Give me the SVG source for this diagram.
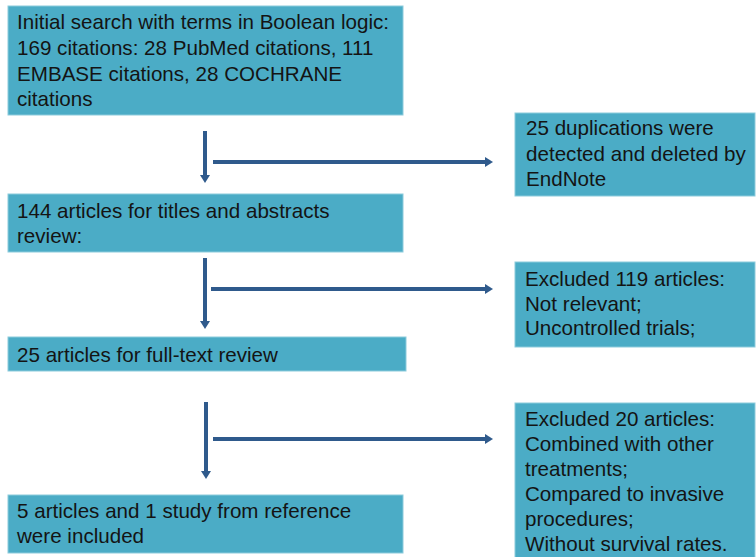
<svg xmlns="http://www.w3.org/2000/svg" width="756" height="557" viewBox="0 0 756 557">
<style>
.box{fill:#4BACC6;stroke:#8ccbdc;stroke-width:1}
.t{font-family:"Liberation Sans",Arial,sans-serif;font-size:20.6px;fill:#141414}
.c{stroke:#2F5A8C;stroke-width:4;fill:none}
</style>
<defs>
<marker id="ah" markerUnits="userSpaceOnUse" markerWidth="10" markerHeight="12" refX="1" refY="5" orient="auto" viewBox="0 0 10 10">
<path d="M0,0 L8,5 L0,10 Z" fill="#2F5A8C"/>
</marker>
</defs>
<rect width="756" height="557" fill="#ffffff"/>
<g id="n1"><rect class="box" x="8" y="6" width="395" height="109"/>
<text class="t" x="17" y="29">Initial search with terms in Boolean logic:</text>
<text class="t" x="17" y="55">169 citations: 28 PubMed citations, 111</text>
<text class="t" x="17" y="81">EMBASE citations, 28 COCHRANE</text>
<text class="t" x="17" y="106">citations</text></g>
<g id="n2"><rect class="box" x="515" y="113" width="240" height="83"/>
<text class="t" x="526" y="135">25 duplications were</text>
<text class="t" x="526" y="160.5">detected and deleted by</text>
<text class="t" x="526" y="186">EndNote</text></g>
<g id="n3"><rect class="box" x="8" y="194" width="395" height="58"/>
<text class="t" x="17" y="218">144 articles for titles and abstracts</text>
<text class="t" x="17" y="243">review:</text></g>
<g id="n4"><rect class="box" x="515" y="262" width="240" height="85"/>
<text class="t" x="525" y="286">Excluded 119 articles:</text>
<text class="t" x="525" y="311">Not relevant;</text>
<text class="t" x="525" y="335">Uncontrolled trials;</text></g>
<g id="n5"><rect class="box" x="8" y="337" width="398" height="34"/>
<text class="t" x="17" y="362">25 articles for full-text review</text></g>
<g id="n6"><rect class="box" x="8" y="495" width="395" height="58"/>
<text class="t" x="17" y="518">5 articles and 1 study from reference</text>
<text class="t" x="17" y="543">were included</text></g>
<g id="n7"><rect class="box" x="515" y="403" width="240" height="160"/>
<text class="t" x="525" y="426">Excluded 20 articles:</text>
<text class="t" x="525" y="451">Combined with other</text>
<text class="t" x="525" y="476">treatments;</text>
<text class="t" x="525" y="501">Compared to invasive</text>
<text class="t" x="525" y="526">procedures;</text>
<text class="t" x="525" y="551">Without survival rates.</text></g>
<g id="connectors">
<line class="c" x1="205" y1="131" x2="205" y2="176" marker-end="url(#ah)"/>
<line class="c" x1="213" y1="162" x2="486" y2="162" marker-end="url(#ah)"/>
<line class="c" x1="205" y1="258" x2="205" y2="322" marker-end="url(#ah)"/>
<line class="c" x1="211" y1="289" x2="486" y2="289" marker-end="url(#ah)"/>
<line class="c" x1="206" y1="402" x2="206" y2="472" marker-end="url(#ah)"/>
<line class="c" x1="213" y1="439" x2="486" y2="439" marker-end="url(#ah)"/>
</g>
</svg>
